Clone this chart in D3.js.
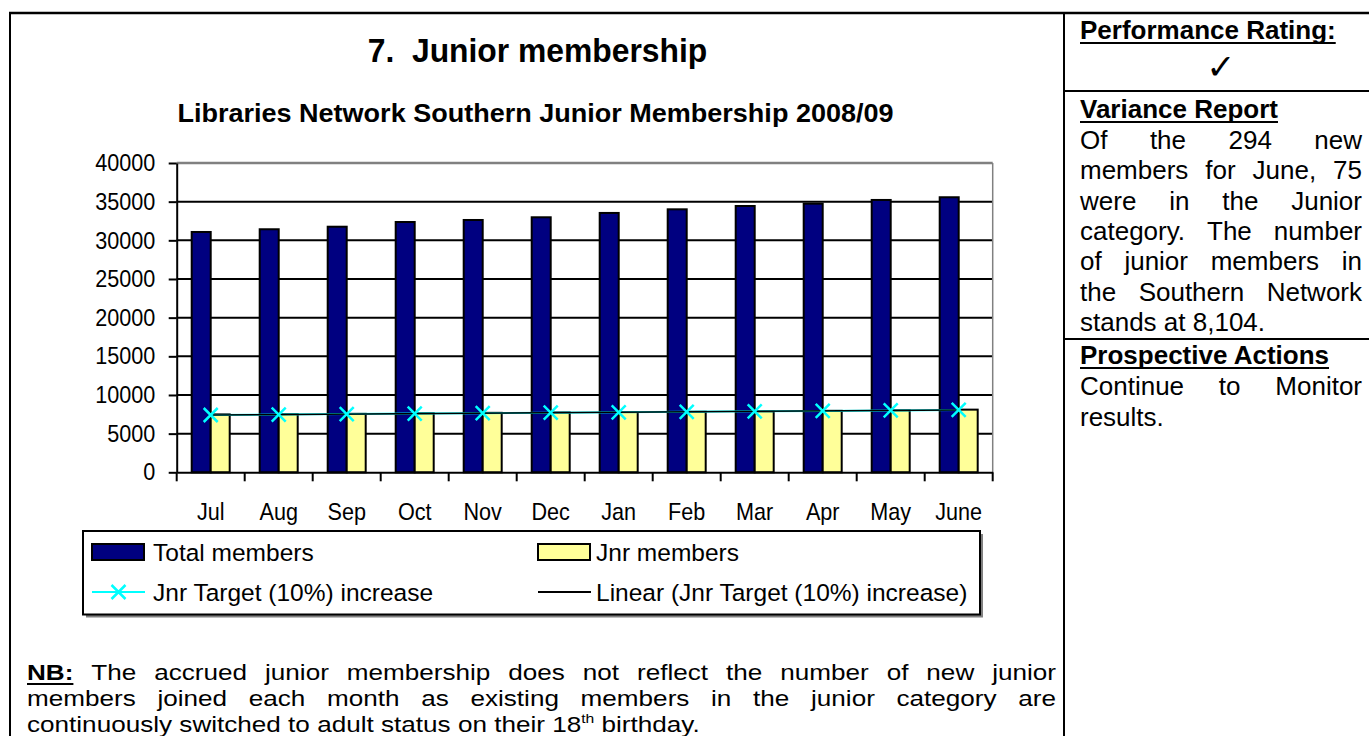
<!DOCTYPE html>
<html>
<head>
<meta charset="utf-8">
<script src="https://cdn.jsdelivr.net/npm/d3@7"></script>
<style>
  body { margin: 0; background: #fff; }
  svg { display: block; }
  text { white-space: pre; }
</style>
</head>
<body>
<svg id="page"></svg>
<script>
// ---- data ----
var months = ["Jul", "Aug", "Sep", "Oct", "Nov", "Dec", "Jan", "Feb", "Mar", "Apr", "May", "June"];
var totalMembers = [31080, 31430, 31760, 32370, 32630, 32980, 33540, 34010, 34440, 34740, 35220, 35570];
var jnrMembers = [7490, 7520, 7560, 7640, 7690, 7740, 7790, 7830, 7880, 7950, 8010, 8104];
var jnrTarget = [7410, 7470, 7530, 7590, 7650, 7710, 7760, 7820, 7880, 7940, 8000, 8060];
var yTicks = [0, 5000, 10000, 15000, 20000, 25000, 30000, 35000, 40000];
var legendLabels = ["Total members", "Jnr members", "Jnr Target (10%) increase", "Linear (Jnr Target (10%) increase)"];

var pageTitle = "7.  Junior membership";
var chartTitle = "Libraries Network Southern Junior Membership 2008/09";
var varianceLines = ["Of the 294 new", "members for June, 75", "were in the Junior", "category. The number",
                     "of junior members in", "the Southern Network", "stands at 8,104."];
var actionLines = ["Continue to Monitor", "results."];
var nbLines = ["NB: The accrued junior membership does not reflect the number of new junior",
               "members joined each month as existing members in the junior category are",
               "continuously switched to adult status on their 18^th birthday."];

var navy = "#000080", yellow = "#FFFF99", cyan = "#00FFFF";
var FONT = "'Liberation Sans', Arial, sans-serif";

var W = 1369, H = 736;
var svg = d3.select("#page").attr("width", W).attr("height", H)
    .attr("font-family", FONT);

// ---- text helpers ----
function place(sel, x, y, sx) {
    sel.attr("transform", "translate(" + x + "," + y + ") scale(" + sx + ",1)");
}

function label(x, y, str, size, sx, opts) {
    opts = opts || {};
    var t = svg.append("text")
        .attr("font-size", size)
        .attr("font-weight", opts.bold ? "bold" : "normal")
        .attr("text-anchor", opts.anchor || "start")
        .attr("fill", "#000")
        .text(str);
    place(t, x, y, sx);
    return t;
}

// one line of words, justified between x0 and x1 or left aligned
function textLine(x0, x1, y, str, justify, size, sx, styled) {
    var g = svg.append("g");
    var words = str.split(" ").map(function (w) {
        var st = styled && styled.indexOf(w) >= 0;
        var t = g.append("text").attr("font-size", size)
            .attr("font-weight", st ? "bold" : "normal");
        if (w.indexOf("^") >= 0) {
            var p = w.split("^");
            t.append("tspan").text(p[0]);
            t.append("tspan").attr("font-size", size * 0.6).attr("dy", -size * 0.42).text(p[1]);
        } else {
            t.text(w);
        }
        return { sel: t, w: t.node().getComputedTextLength() * sx, ul: st };
    });
    var total = d3.sum(words, function (d) { return d.w; });
    var gap = (justify && words.length > 1) ? (x1 - x0 - total) / (words.length - 1) : size * 0.278 * sx;
    var x = x0;
    words.forEach(function (d) {
        place(d.sel, x, y, sx);
        if (d.ul) {
            g.append("line").attr("x1", x).attr("x2", x + d.w)
                .attr("y1", y + 4).attr("y2", y + 4)
                .attr("stroke", "#000").attr("stroke-width", 2);
        }
        x += d.w + gap;
    });
}

function heading(x, y, str, size, sx) {
    var t = label(x, y, str, size, sx, { bold: true });
    var w = t.node().getComputedTextLength() * sx;
    svg.append("line").attr("x1", x).attr("x2", x + w)
        .attr("y1", y + 4).attr("y2", y + 4)
        .attr("stroke", "#000").attr("stroke-width", 2);
}

// ---- page frame ----
var frameL = 10, divX = 1064, topY = 13;
svg.append("line").attr("x1", frameL - 1).attr("x2", W).attr("y1", topY).attr("y2", topY)
    .attr("stroke", "#000").attr("stroke-width", 2.5);
svg.append("line").attr("x1", frameL).attr("x2", frameL).attr("y1", topY).attr("y2", H)
    .attr("stroke", "#000").attr("stroke-width", 2);
svg.append("line").attr("x1", divX).attr("x2", divX).attr("y1", topY).attr("y2", H)
    .attr("stroke", "#000").attr("stroke-width", 2);
[91, 339].forEach(function (yy) {
    svg.append("line").attr("x1", divX).attr("x2", W).attr("y1", yy).attr("y2", yy)
        .attr("stroke", "#000").attr("stroke-width", 2);
});

// ---- right panel ----
var pSize = 26, pSX = 1, rx0 = 1080, rx1 = 1362;
heading(rx0, 39, "Performance Rating:", pSize, pSX);
svg.append("text").attr("x", 1221).attr("y", 79).attr("text-anchor", "middle")
    .attr("font-family", "'DejaVu Sans', sans-serif").attr("font-size", 35).text("\u2713");
heading(rx0, 118, "Variance Report", pSize, pSX);
varianceLines.forEach(function (s, i) {
    textLine(rx0, rx1, 149 + i * 30.3, s, i < varianceLines.length - 1, pSize, pSX);
});
heading(rx0, 364, "Prospective Actions", pSize, pSX);
actionLines.forEach(function (s, i) {
    textLine(rx0, rx1, 395 + i * 31, s, i < actionLines.length - 1, pSize, pSX);
});

// ---- NB paragraph ----
var nbSize = 22.6, nbSX = 1.155;
nbLines.forEach(function (s, i) {
    textLine(27, 1056, 680 + i * 26, s, i < nbLines.length - 1, nbSize, nbSX, ["NB:"]);
});

// ---- titles ----
label(537.5, 62, pageTitle, 32.5, 0.98, { bold: true, anchor: "middle" });
label(535.5, 122, chartTitle, 26.5, 1.02, { bold: true, anchor: "middle" });

// ---- chart ----
var plotL = 176.7, plotR = 992.7, plotT = 163, plotB = 472.3;
var tickSX = 0.9, tickSize = 24;

var x = d3.scaleBand().domain(months).range([plotL, plotR]).padding(0);
var xs = d3.scaleBand().domain(["total", "jnr"]).range([-19, 19]);
var y = d3.scaleLinear().domain([0, 40000]).range([plotB, plotT]);
var cx = function (m) { return x(m) + x.bandwidth() / 2; };

// gridlines
svg.append("g").selectAll("line")
    .data(yTicks.filter(function (v) { return v > 0 && v < 40000; }))
    .join("line")
    .attr("x1", plotL).attr("x2", plotR)
    .attr("y1", function (d) { return y(d); }).attr("y2", function (d) { return y(d); })
    .attr("stroke", "#000").attr("stroke-width", 2);

// plot area border (top / right)
svg.append("line").attr("x1", plotL).attr("x2", plotR).attr("y1", plotT).attr("y2", plotT)
    .attr("stroke", "#808080").attr("stroke-width", 2.5);
svg.append("line").attr("x1", plotR).attr("x2", plotR).attr("y1", plotT).attr("y2", plotB)
    .attr("stroke", "#808080").attr("stroke-width", 1.5);

// bars
var bars = svg.append("g").attr("stroke", "#000").attr("stroke-width", 2);
bars.selectAll("rect.total").data(months).join("rect")
    .attr("x", function (m) { return cx(m) + xs("total"); })
    .attr("width", xs.bandwidth())
    .attr("y", function (m, i) { return y(totalMembers[i]); })
    .attr("height", function (m, i) { return plotB - y(totalMembers[i]); })
    .attr("fill", navy);
bars.selectAll("rect.jnr").data(months).join("rect")
    .attr("x", function (m) { return cx(m) + xs("jnr"); })
    .attr("width", xs.bandwidth())
    .attr("y", function (m, i) { return y(jnrMembers[i]); })
    .attr("height", function (m, i) { return plotB - y(jnrMembers[i]); })
    .attr("fill", yellow);

// target line + markers
var targetPts = months.map(function (m, i) { return [cx(m), y(jnrTarget[i])]; });
svg.append("path").attr("d", d3.line()(targetPts))
    .attr("fill", "none").attr("stroke", cyan).attr("stroke-width", 2);

// linear trend of the target series
var n = jnrTarget.length, idx = d3.range(1, n + 1);
var mx = d3.mean(idx), my = d3.mean(jnrTarget);
var slope = d3.sum(idx, function (k, i) { return (k - mx) * (jnrTarget[i] - my); }) /
            d3.sum(idx, function (k) { return (k - mx) * (k - mx); });
var icpt = my - slope * mx;
svg.append("line")
    .attr("x1", cx(months[0])).attr("y1", y(icpt + slope * 1))
    .attr("x2", cx(months[n - 1])).attr("y2", y(icpt + slope * n))
    .attr("stroke", "#000").attr("stroke-width", 1.5);

function xMark(g, px, py, r) {
    g.append("path")
        .attr("d", "M" + (px - r) + "," + (py - r) + "L" + (px + r) + "," + (py + r) +
                   "M" + (px - r) + "," + (py + r) + "L" + (px + r) + "," + (py - r))
        .attr("stroke", cyan).attr("stroke-width", 2.5).attr("fill", "none");
}
var marks = svg.append("g");
targetPts.forEach(function (p) { xMark(marks, p[0], p[1], 7); });

// y axis
var gy = svg.append("g").attr("transform", "translate(" + plotL + ",0)")
    .call(d3.axisLeft(y).tickValues(yTicks).tickFormat(d3.format("d"))
        .tickSize(8).tickPadding(13).tickSizeOuter(0));
gy.attr("font-family", FONT).attr("font-size", tickSize);
gy.select(".domain").attr("stroke", "#000").attr("stroke-width", 2);
gy.selectAll(".tick line").attr("stroke", "#000").attr("stroke-width", 2);
gy.selectAll(".tick text").attr("fill", "#000")
    .attr("x", -21.5 / tickSX).attr("transform", "scale(" + tickSX + ",1)");

// x axis
var gx = svg.append("g").attr("transform", "translate(0," + plotB + ")")
    .call(d3.axisBottom(x).tickSize(0).tickSizeOuter(0));
gx.attr("font-family", FONT).attr("font-size", tickSize);
gx.select(".domain").attr("stroke", "#000").attr("stroke-width", 2);
gx.selectAll(".tick text").attr("fill", "#000")
    .attr("y", 520 - plotB).attr("dy", 0)
    .attr("transform", "scale(" + tickSX + ",1)");
gx.append("g").selectAll("line")
    .data(months.map(function (m) { return x(m); }).concat([plotR]))
    .join("line")
    .attr("x1", function (d) { return d; }).attr("x2", function (d) { return d; })
    .attr("y1", 0).attr("y2", 9)
    .attr("stroke", "#000").attr("stroke-width", 2);

// ---- legend ----
var lg = { x: 83, y: 531, w: 897, h: 83.5 };
svg.append("rect").attr("x", lg.x + 3).attr("y", lg.y + 3).attr("width", lg.w).attr("height", lg.h)
    .attr("fill", "#808080");
svg.append("rect").attr("x", lg.x).attr("y", lg.y).attr("width", lg.w).attr("height", lg.h)
    .attr("fill", "#fff").attr("stroke", "#000").attr("stroke-width", 2);

var colSwatch = [92, 538], colText = [153, 596], rowY = [552, 592];
var legSize = 24.5, legSX = 1;
legendLabels.forEach(function (s, i) {
    var c = i % 2, r = Math.floor(i / 2);
    var sx0 = colSwatch[c], sy = rowY[r];
    if (i < 2) {
        svg.append("rect").attr("x", sx0).attr("y", sy - 8).attr("width", 52).attr("height", 16)
            .attr("fill", i === 0 ? navy : yellow).attr("stroke", "#000").attr("stroke-width", 2);
    } else if (i === 2) {
        svg.append("line").attr("x1", sx0).attr("x2", sx0 + 53).attr("y1", sy).attr("y2", sy)
            .attr("stroke", cyan).attr("stroke-width", 2);
        xMark(svg, sx0 + 26.5, sy, 7);
    } else {
        svg.append("line").attr("x1", sx0).attr("x2", sx0 + 53).attr("y1", sy).attr("y2", sy)
            .attr("stroke", "#000").attr("stroke-width", 2);
    }
    label(colText[c], sy + 8.5, s, legSize, legSX);
});
</script>
</body>
</html>
